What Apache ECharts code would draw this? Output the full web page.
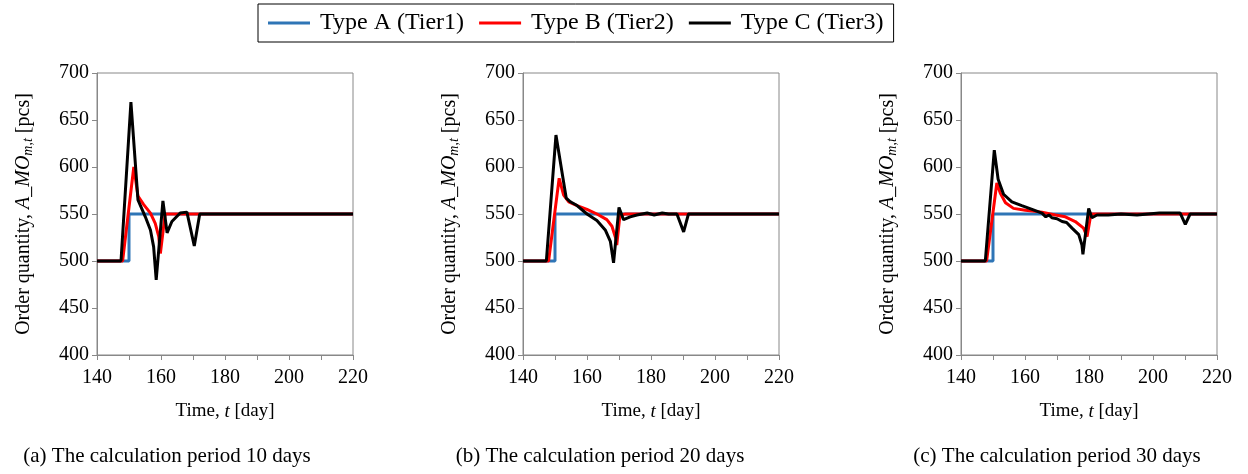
<!DOCTYPE html>
<html>
<head>
<meta charset="utf-8">
<script src="https://cdn.jsdelivr.net/npm/echarts@6/dist/echarts.min.js"></script>
<style>
  html, body { margin: 0; padding: 0; background: #fff; }
  #chart { width: 1248px; height: 474px; }
</style>
</head>
<body>
<div id="chart"></div>
<script>
// Data: [day, order quantity]
const seriesNames = ['Type A (Tier1)', 'Type B (Tier2)', 'Type C (Tier3)'];
const captions = ['(a) The calculation period 10 days', '(b) The calculation period 20 days', '(c) The calculation period 30 days'];
const xTicks = [140, 160, 180, 200, 220];
const yTicks = [400, 450, 500, 550, 600, 650, 700];

// Type A is the same step in every panel
const typeA = [[140, 500], [150, 550], [220, 550]];

// (a) 10 days
const typeB_a = [[140, 500], [148, 500], [151.5, 600], [152.8, 569], [154.6, 560], [156.7, 551], [158.2, 540],
  [159.3, 526], [159.8, 508], [161.3, 550], [220, 550]];
const typeC_a = [[140, 500], [147.5, 500], [150.6, 669], [152.8, 565], [155.1, 547], [156.7, 533], [157.7, 515],
  [158.5, 480], [160.6, 564], [161.9, 530], [163.4, 542], [166, 551], [168.1, 552], [170.4, 516], [172.1, 550], [220, 550]];

// (b) 20 days
const typeB_b = [[140, 500], [148, 500], [151.3, 588], [152.7, 570], [154.3, 563], [156.9, 559], [160, 555],
  [163.1, 550], [166.2, 544], [167.8, 537], [169, 524], [169.3, 517], [170.3, 549], [172, 550], [220, 550]];
const typeC_b = [[140, 500], [147.3, 500], [150.3, 634], [153.5, 567], [154.8, 563], [156.9, 559], [160, 550],
  [163.1, 543], [165.7, 533], [167.3, 521], [168.3, 498], [170, 557], [171.4, 544], [173.5, 547], [175.6, 549],
  [178.8, 551], [181, 549], [183.5, 551], [185.5, 550], [188.1, 550], [190.2, 531], [191.7, 550], [220, 550]];

// (c) 30 days
const typeB_c = [[140, 500], [148, 500], [151.2, 583], [152.3, 572], [153.9, 562], [156.4, 556], [160.1, 554],
  [165.3, 552], [169.5, 549], [172.6, 547], [175.7, 542], [178.3, 535], [179.4, 526], [180.6, 550], [220, 550]];
const typeC_c = [[140, 500], [147.6, 500], [150.4, 618], [151.6, 587], [153.3, 571], [155.9, 563], [159, 559],
  [162.2, 555], [165.3, 551], [166.5, 547], [167.5, 549], [168.4, 546], [170, 545], [171.6, 542], [173, 541],
  [174.7, 535], [176.8, 528], [177.8, 517], [178.1, 507], [179.9, 556], [180.9, 546], [182.5, 549], [186, 549],
  [190, 550], [195, 549], [202, 551], [208.5, 551], [210.1, 539], [211.6, 550], [220, 550]];

const panels = [
  { b: typeB_a, c: typeC_a, left: 97, caption: 162 },
  { b: typeB_b, c: typeC_b, left: 523, caption: 595 },
  { b: typeB_c, c: typeC_c, left: 961, caption: 1052 }
];

const colors = ['#2E75B6', '#FF0000', '#000000'];
const font = 'Liberation Serif';

const grids = [], xAxes = [], yAxes = [], series = [], titles = [];
panels.forEach(function (p, i) {
  grids.push({ left: p.left, top: 73, width: 256, height: 282, show: true, borderColor: '#888', borderWidth: 1 });
  xAxes.push({
    type: 'value', gridIndex: i, min: 140, max: 220, interval: 10,
    name: '{n|Time, }{i|t}{n| [day]}', nameLocation: 'middle', nameGap: 47,
    nameTextStyle: {
      rich: {
        n: { fontFamily: font, fontSize: 19, color: '#000' },
        i: { fontFamily: font, fontSize: 19, color: '#000', fontStyle: 'italic' }
      }
    },
    axisLine: { lineStyle: { color: '#888' } },
    axisTick: { inside: false, length: 5, lineStyle: { color: '#888' } },
    splitLine: { show: false },
    axisLabel: {
      fontFamily: font, fontSize: 20, color: '#000', margin: 13,
      formatter: function (v) { return xTicks.indexOf(v) >= 0 ? String(v) : ''; }
    }
  });
  yAxes.push({
    type: 'value', gridIndex: i, min: 400, max: 700, interval: 50,
    name: '{n|Order quantity, }{i|A_MO}{s|m,t}{n| [pcs]}', nameLocation: 'middle', nameGap: 62,
    nameTextStyle: {
      rich: {
        n: { fontFamily: font, fontSize: 20, color: '#000' },
        i: { fontFamily: font, fontSize: 20, color: '#000', fontStyle: 'italic' },
        s: { fontFamily: font, fontSize: 14, color: '#000', fontStyle: 'italic', verticalAlign: 'bottom', padding: [8, 0, 0, 0] }
      }
    },
    axisLine: { show: true, lineStyle: { color: '#888' } },
    axisTick: { show: true, length: 5, lineStyle: { color: '#888' } },
    splitLine: { show: false },
    axisLabel: {
      fontFamily: font, fontSize: 20, color: '#000', margin: 8,
      formatter: function (v) { return yTicks.indexOf(v) >= 0 ? String(v) : ''; }
    }
  });
  [typeA, p.b, p.c].forEach(function (d, k) {
    series.push({
      name: seriesNames[k], type: 'line', xAxisIndex: i, yAxisIndex: i,
      data: d, symbol: 'none', step: k === 0 ? 'end' : false,
      lineStyle: { color: colors[k], width: 3 }, itemStyle: { color: colors[k] },
      animation: false
    });
  });
  titles.push({
    text: captions[i], left: p.caption, top: 441, textAlign: 'center',
    textStyle: { fontFamily: font, fontSize: 21, fontWeight: 'normal', color: '#000' }
  });
});

const chart = echarts.init(document.getElementById('chart'));
chart.setOption({
  animation: false,
  title: titles,
  legend: {
    data: seriesNames, left: 258, top: 4, orient: 'horizontal',
    borderColor: '#000', borderWidth: 1, padding: [7, 10], itemGap: 15,
    icon: 'rect', itemWidth: 42, itemHeight: 3,
    textStyle: { fontFamily: font, fontSize: 24, color: '#000', padding: [0, 0, 0, 5] }
  },
  grid: grids,
  xAxis: xAxes,
  yAxis: yAxes,
  series: series
});
</script>
</body>
</html>
